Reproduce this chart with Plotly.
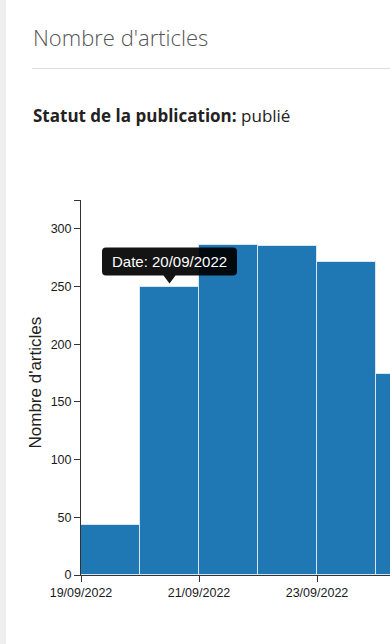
import plotly.graph_objects as go
import pandas as pd

# ---- data ----
dates = ["2022-09-19", "2022-09-20", "2022-09-21", "2022-09-22", "2022-09-23", "2022-09-24"]
counts = [43, 250, 286, 285, 271, 174]
y_ticks = [0, 50, 100, 150, 200, 250, 300]
x_tick_dates = ["2022-09-19", "2022-09-21", "2022-09-23"]
x_tick_labels = ["19/09/2022", "21/09/2022", "23/09/2022"]
title_text = "Nombre d'articles"
subtitle_label = "Statut de la publication:"
subtitle_value = "publié"
y_title = "Nombre d'articles"
tooltip_index = 1

DAY_MS = 86400000
W, H = 390, 644
L, R, T, B = 81, 0, 200, 69
plot_w = W - L - R
plot_h = H - T - B
px_per_day = 59.0
start = pd.Timestamp(dates[0])
end = start + pd.Timedelta(days=plot_w / px_per_day)
y_max = 325

fig = go.Figure()
fig.add_trace(go.Bar(
    x=dates, y=counts, width=DAY_MS, offset=0,
    marker=dict(color="#1f77b4", line=dict(color="#d6e6f2", width=1)),
    hoverinfo="skip",
))

tt_x = pd.Timestamp(dates[tooltip_index]) + pd.Timedelta(hours=12)
tt_y = counts[tooltip_index]

# tooltip box (rounded) with pointer, in pixels relative to the bar top
hw, yb, yt, r, aw, tip = 67.5, 11, 39, 4, 6, 3
path = (f"M {-hw+r},{yb} L {-aw},{yb} L 0,{tip} L {aw},{yb} L {hw-r},{yb} "
        f"Q {hw},{yb} {hw},{yb+r} L {hw},{yt-r} Q {hw},{yt} {hw-r},{yt} "
        f"L {-hw+r},{yt} Q {-hw},{yt} {-hw},{yt-r} L {-hw},{yb+r} Q {-hw},{yb} {-hw+r},{yb} Z")

shapes = [
    dict(type="path", xref="x", yref="y", xsizemode="pixel", ysizemode="pixel",
         xanchor=tt_x, yanchor=tt_y, path=path,
         fillcolor="rgba(0,0,0,0.92)", line=dict(width=0), layer="above"),
    # header rule
    dict(type="line", xref="paper", yref="paper",
         x0=(32 - L) / plot_w, x1=1, y0=1 + (T - 68.5) / plot_h, y1=1 + (T - 68.5) / plot_h,
         line=dict(color="#dddddd", width=1)),
    # left page strip
    dict(type="rect", xref="paper", yref="paper", xsizemode="pixel", xanchor=0,
         x0=-L, x1=-L + 6, y0=-B / plot_h, y1=1 + T / plot_h,
         fillcolor="#efefef", line=dict(width=0), layer="below"),
]

annotations = [
    dict(text=title_text, xref="paper", yref="paper", x=(31 - L) / plot_w, y=1 + (T - 37) / plot_h,
         xanchor="left", yanchor="middle", showarrow=False,
         font=dict(family="Open Sans", size=22, color="#555555", weight=300)),
    dict(text=f"<b>{subtitle_label}</b> {subtitle_value}", xref="paper", yref="paper",
         x=(31 - L) / plot_w, y=1 + (T - 115) / plot_h, xanchor="left", yanchor="middle",
         showarrow=False, font=dict(family="Open Sans", size=17, color="#222222")),
    dict(text=y_title, xref="paper", yref="paper", x=(35 - L) / plot_w,
         y=1 - (382.5 - T) / plot_h, xanchor="center", yanchor="middle", textangle=-90,
         showarrow=False, font=dict(family="Liberation Sans", size=17, color="#222")),
    dict(text=f"Date: {pd.Timestamp(dates[tooltip_index]).strftime('%d/%m/%Y')}",
         x=tt_x, y=tt_y, xref="x", yref="y", yanchor="middle", xanchor="center",
         yshift=25, showarrow=False,
         font=dict(family="Liberation Sans", size=15, color="white")),
]

fig.update_layout(
    width=W, height=H,
    margin=dict(l=L, r=R, t=T, b=B),
    paper_bgcolor="white", plot_bgcolor="white",
    showlegend=False, bargap=0,
    shapes=shapes, annotations=annotations,
    xaxis=dict(type="date", range=[start, end],
               tickvals=x_tick_dates, ticktext=x_tick_labels,
               ticks="outside", ticklen=6, tickcolor="#333", showline=True,
               linecolor="#333", linewidth=1, showgrid=False, zeroline=False,
               tickfont=dict(family="Liberation Sans", size=12.5, color="#1a1a1a")),
    yaxis=dict(range=[0, y_max],
               tickvals=y_ticks + [y_max], ticktext=[str(v) for v in y_ticks] + [""],
               ticks="outside", ticklen=6, tickcolor="#333", showline=True,
               linecolor="#333", linewidth=1, showgrid=False, zeroline=False,
               tickfont=dict(family="Liberation Sans", size=12.5, color="#1a1a1a")),
)

fig.write_html("out.html", config={"displayModeBar": False},
               post_script="document.body.style.margin='0';document.body.style.overflow='hidden';")
